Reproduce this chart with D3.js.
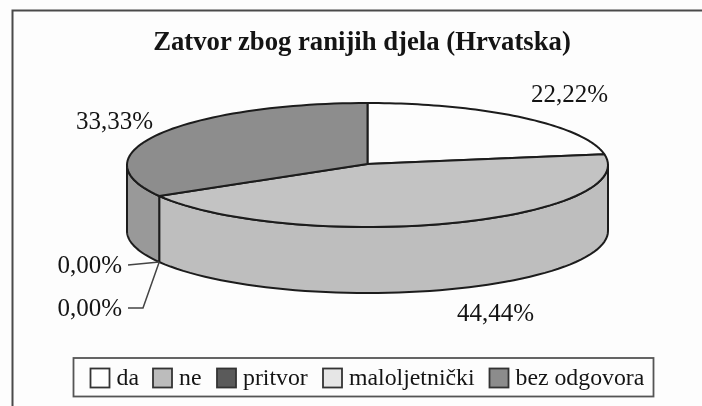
<!DOCTYPE html>
<html>
<head>
<meta charset="utf-8">
<script src="https://cdn.jsdelivr.net/npm/d3@7"></script>
<style>
  html, body { margin: 0; padding: 0; background: #fdfdfd; }
  svg { display: block; filter: blur(0.4px); }
  text { font-family: "Liberation Serif", serif; fill: #141414; }
</style>
</head>
<body>
<div id="vis-container"></div>
<script>
const title = "Zatvor zbog ranijih djela (Hrvatska)";
const categories = ["da", "ne", "pritvor", "maloljetnički", "bez odgovora"];
const values = [22.22, 44.44, 0, 0, 33.33];
const topColors = ["#fdfdfd", "#c3c3c3", "#585858", "#e4e4e4", "#8d8d8d"];
const wallColors = ["#fdfdfd", "#bebebe", "#585858", "#e4e4e4", "#999999"];
const legendColors = ["#fdfdfd", "#bcbcbc", "#5a5a5a", "#e6e6e6", "#8c8c8c"];

const width = 702, height = 406;
const cx = 367.5, cy = 165, rx = 240.5, ry = 62, depth = 66;
const apex = [367.5, 164];

let svg = d3.select("#vis-container")
  .append("svg")
  .attr("width", width)
  .attr("height", height);

// frame only has top and left edges, the rest is cut off in the scan
svg.append("path")
  .attr("d", "M12.5,406V10.5H702")
  .attr("fill", "none")
  .attr("stroke", "#4a4a4a")
  .attr("stroke-width", 2);

svg.append("text")
  .attr("x", 362)
  .attr("y", 50)
  .attr("text-anchor", "middle")
  .attr("font-size", "26.7px")
  .attr("font-weight", "bold")
  .text(title);

const arcs = d3.pie().sort(null)(values);

// angle is clockwise from 12 o'clock, same as d3.pie
const px = a => cx + rx * Math.sin(a);
const py = (a, h) => cy - ry * Math.cos(a) + h;

const samples = (a0, a1) => d3.range(0, 61).map(i => a0 + (a1 - a0) * i / 60);
const line = d3.line();
const rim = (a0, a1, h) => samples(a0, a1).map(a => [px(a), py(a, h)]);

// side walls, only the front half of the disc is visible
arcs.forEach(d => {
  let a0 = Math.max(d.startAngle, Math.PI / 2);
  let a1 = Math.min(d.endAngle, Math.PI * 1.5);
  if (a1 <= a0) return;
  let pts = rim(a0, a1, 0).concat(rim(a0, a1, depth).reverse());
  svg.append("path")
    .attr("d", line(pts) + "Z")
    .attr("fill", wallColors[d.index])
    .attr("stroke", "#1c1c1c")
    .attr("stroke-width", 2)
    .attr("stroke-linejoin", "round");
});

// top faces
arcs.forEach(d => {
  if (d.value === 0) return;
  let pts = [apex].concat(rim(d.startAngle, d.endAngle, 0));
  svg.append("path")
    .attr("d", line(pts) + "Z")
    .attr("fill", topColors[d.index])
    .attr("stroke", "#1c1c1c")
    .attr("stroke-width", 2)
    .attr("stroke-linejoin", "round");
});

// the zero slices sit on the ne / bez odgovora seam, at the bottom of the wall
const seam = arcs[2].startAngle;
const seamPoint = [px(seam), py(seam, depth)];

svg.append("path")
  .attr("d", "M128,265L" + seamPoint.join(","))
  .attr("fill", "none").attr("stroke", "#444").attr("stroke-width", 1.5);
svg.append("path")
  .attr("d", "M128,308H143L" + seamPoint.join(","))
  .attr("fill", "none").attr("stroke", "#444").attr("stroke-width", 1.5);

const fmt = v => v.toFixed(2).replace(".", ",") + "%";
const labelAnchors = [[608, 102], [534, 321], [122, 273], [122, 316], [153, 129]];

svg.selectAll(".pct")
  .data(values)
  .enter()
  .append("text")
    .attr("class", "pct")
    .attr("x", (d, i) => labelAnchors[i][0])
    .attr("y", (d, i) => labelAnchors[i][1])
    .attr("text-anchor", "end")
    .attr("font-size", "25px")
    .text(d => fmt(d));

// legend
svg.append("rect")
  .attr("x", 73.5).attr("y", 358)
  .attr("width", 580).attr("height", 38.5)
  .attr("fill", "#fdfdfd")
  .attr("stroke", "#555")
  .attr("stroke-width", 1.8);

const swatchX = [90.5, 153, 217, 323, 489.5];

svg.selectAll(".swatch")
  .data(categories)
  .enter()
  .append("rect")
    .attr("class", "swatch")
    .attr("x", (d, i) => swatchX[i])
    .attr("y", 368.5)
    .attr("width", 19)
    .attr("height", 19)
    .attr("fill", (d, i) => legendColors[i])
    .attr("stroke", "#333")
    .attr("stroke-width", 1.8);

svg.selectAll(".legend-label")
  .data(categories)
  .enter()
  .append("text")
    .attr("class", "legend-label")
    .attr("x", (d, i) => swatchX[i] + 26)
    .attr("y", 385)
    .attr("font-size", "23.8px")
    .text(d => d);
</script>
</body>
</html>
